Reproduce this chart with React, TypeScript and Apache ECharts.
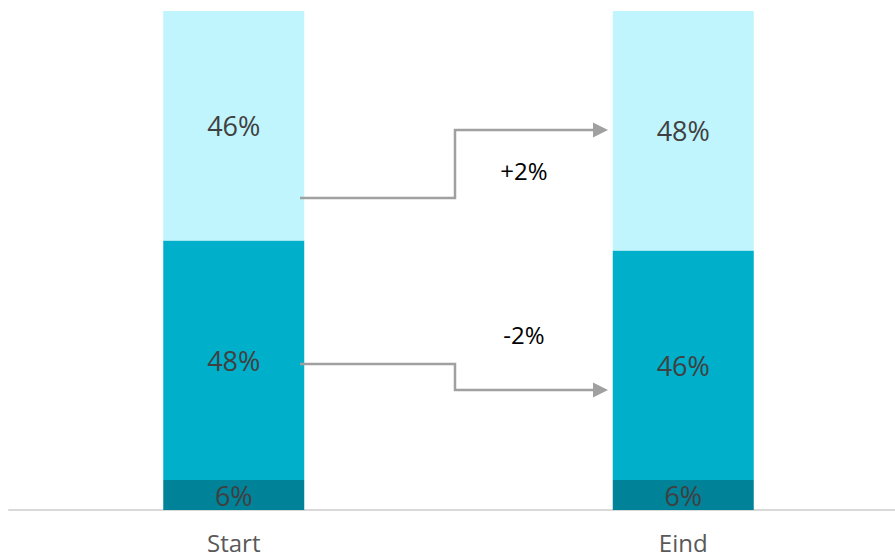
import React, { useEffect, useRef } from "react";
import * as echarts from "echarts";

const categories = ["Start", "Eind"];
const bottomValues = [6, 6];
const middleValues = [48, 46];
const topValues = [46, 48];
const changeLabels = ["+2%", "-2%"];

export default function App() {
  const ref = useRef<HTMLDivElement>(null);
  useEffect(() => {
    if (!ref.current) return;
    const chart = echarts.init(ref.current, null, { renderer: "svg" });
    const font = "'Open Sans', sans-serif";
    const label = {
      show: true,
      position: "inside" as const,
      formatter: (p: any) => p.value + "%",
      color: "#404040",
      fontSize: 27,
      fontFamily: font,
    };
    const mk = (name: string, data: number[], color: string) => ({
      name,
      type: "bar" as const,
      stack: "total",
      data,
      barWidth: 141,
      itemStyle: { color },
      label,
    });
    chart.setOption({
      animation: false,
      grid: { left: 9, width: 899, top: 11, bottom: 49 },
      xAxis: {
        type: "category",
        data: categories,
        axisLine: { lineStyle: { color: "#D9D9D9", width: 2 } },
        axisTick: { show: false },
        axisLabel: { color: "#595959", fontSize: 24, fontFamily: font, margin: 20 },
      },
      yAxis: { type: "value", min: 0, max: 100, show: false, splitLine: { show: false } },
      series: [
        mk("bottom", bottomValues, "#008299"),
        mk("middle", middleValues, "#00AFCA"),
        mk("top", topValues, "#C0F5FD"),
      ],
    });
    const arrowColor = "#A0A0A0";
    const arrow = (pts: number[][]) => {
      const last = pts[pts.length - 1];
      return [
        {
          type: "polyline",
          shape: { points: pts.map((p, i) => (i === pts.length - 1 ? [p[0] - 12, p[1]] : p)) },
          style: { stroke: arrowColor, lineWidth: 2.5, fill: null },
          z: 10,
        },
        {
          type: "polygon",
          shape: {
            points: [
              [last[0], last[1]],
              [last[0] - 15, last[1] - 7.5],
              [last[0] - 15, last[1] + 7.5],
            ],
          },
          style: { fill: arrowColor },
          z: 10,
        },
      ];
    };
    chart.setOption({
      graphic: [
        ...arrow([
          [300, 198],
          [455, 198],
          [455, 130],
          [608, 130],
        ]),
        ...arrow([
          [300, 364],
          [455, 364],
          [455, 390],
          [608, 390],
        ]),
        {
          type: "text",
          x: 524,
          y: 170,
          style: {
            text: changeLabels[0],
            fill: "#000000",
            fontSize: 24,
            fontFamily: font,
            align: "center",
            verticalAlign: "middle",
          },
        },
        {
          type: "text",
          x: 524,
          y: 334,
          style: {
            text: changeLabels[1],
            fill: "#000000",
            fontSize: 24,
            fontFamily: font,
            align: "center",
            verticalAlign: "middle",
          },
        },
      ],
    });
    return () => chart.dispose();
  }, []);
  return (
    <div
      style={{
        position: "fixed",
        left: 0,
        top: 0,
        width: 895,
        height: 559,
        overflow: "hidden",
        background: "#fff",
      }}
    >
      <div ref={ref} style={{ width: 910, height: 559 }} />
    </div>
  );
}
